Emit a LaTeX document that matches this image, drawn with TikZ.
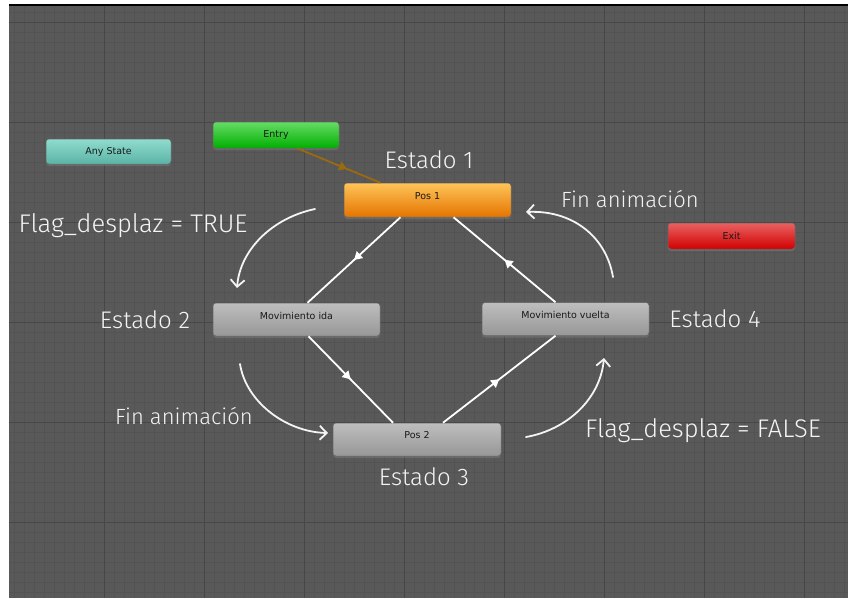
\documentclass[tikz,border=0pt]{standalone}
\usepackage{fontspec}
\newfontfamily\handfont{Fira Sans Light}
\newfontfamily\uifont{DejaVu Sans}
\usetikzlibrary{arrows.meta,decorations.markings,shadows}

\definecolor{canvas}{HTML}{595959}
\definecolor{minorgrid}{HTML}{535353}
\definecolor{majorgrid}{HTML}{474747}
\definecolor{anyTop}{HTML}{8FDCCE}
\definecolor{anyBot}{HTML}{5BB4A6}
\definecolor{entryTop}{HTML}{66DC66}
\definecolor{entryBot}{HTML}{00B000}
\definecolor{posTop}{HTML}{FFC458}
\definecolor{posBot}{HTML}{E47400}
\definecolor{greyTop}{HTML}{BEBEBE}
\definecolor{greyBot}{HTML}{979797}
\definecolor{exitTop}{HTML}{E86262}
\definecolor{exitBot}{HTML}{D20000}
\definecolor{entryLink}{HTML}{9A6A10}
\definecolor{chalk}{HTML}{F4F4F4}

\tikzset{
  minorline/.style={draw=minorgrid, line width=0.8pt},
  majorline/.style={draw=majorgrid, line width=1pt},
  statebox/.style={rounded corners=3pt, draw=black!60, line width=0.5pt,
    inner sep=0pt, text=black!90, font=\uifont\fontsize{9.5}{10}\selectfont,
    drop shadow={shadow xshift=0pt, shadow yshift=-2pt, opacity=0.45}},
  smallbox/.style={statebox, minimum width=126pt, minimum height=26pt},
  bigbox/.style={statebox, minimum width=167pt, minimum height=33pt},
  greybox/.style={bigbox, top color=greyTop, bottom color=greyBot},
  hand/.style={text=chalk, font=\handfont\fontsize{24}{24}\selectfont,
    inner sep=0pt, anchor=base},
  handwide/.style={hand, font=\handfont\fontsize{25.5}{26}\selectfont},
  handnarrow/.style={hand, font=\handfont\fontsize{22}{22}\selectfont},
  trans/.style={draw=white, line width=1.8pt, postaction={decorate},
    decoration={markings, mark=at position 0.5 with
      {\arrow{Triangle[length=8pt,width=9pt]}}}},
  entrylink/.style={draw=entryLink, line width=1.8pt, postaction={decorate},
    decoration={markings, mark=at position 0.6 with
      {\arrow{Triangle[length=8pt,width=9pt]}}}},
  note/.style={draw=chalk, line width=1.8pt, line cap=round,
    -{Straight Barb[length=7pt,width=14pt,line width=1.8pt]}}
}

\newcommand{\lifted}[1]{\raisebox{4pt}[\height][\depth]{#1}}

\begin{document}
\begin{tikzpicture}[x=1pt,y=-1pt]
  % page and editor canvas
  \useasboundingbox (0,0) rectangle (848,598);
  \fill[white] (0,0) rectangle (848,598);
  \fill[canvas] (9,5) rectangle (848,598);
  \fill[black] (9,4) rectangle (848,5.5);

  % grid
  \foreach \x in {14,24,...,844} \draw[minorline] (\x,5.5) -- (\x,598);
  \foreach \y in {12,22,...,592} \draw[minorline] (9,\y) -- (848,\y);
  \foreach \x in {104,204,...,804} \draw[majorline] (\x,5.5) -- (\x,598);
  \foreach \y in {22,122,...,522} \draw[majorline] (9,\y) -- (848,\y);

  % states
  \node[smallbox, minimum width=125pt, minimum height=25pt,
        top color=anyTop, bottom color=anyBot] (any) at (108.5,151.5) {Any State};
  \node[smallbox, top color=entryTop, bottom color=entryBot] (entry) at (276,135) {Entry};
  \node[bigbox, minimum height=34pt, top color=posTop, bottom color=posBot]
        (pos1) at (427.5,200) {\lifted{Pos 1}};
  \node[greybox] (ida) at (296.5,319.5) {\lifted{Movimiento ida}};
  \node[greybox] (vuelta) at (565.5,319) {\lifted{Movimiento vuelta}};
  \node[greybox, minimum width=168pt] (pos2) at (417,439.5) {\lifted{Pos 2}};
  \node[smallbox, minimum width=127pt, top color=exitTop, bottom color=exitBot]
        (exit) at (731.5,236) {Exit};

  % transitions
  \draw[entrylink] ([xshift=21pt]entry.south) -- ([xshift=-47pt]pos1.north);
  \draw[trans] ([xshift=-27pt]pos1.south) -- ([xshift=11pt]ida.north);
  \draw[trans] ([xshift=12pt]ida.south) -- ([xshift=-24pt]pos2.north);
  \draw[trans] ([xshift=26pt]pos2.north) -- ([xshift=-10pt]vuelta.south);
  \draw[trans] ([xshift=-10pt]vuelta.north) -- ([xshift=26pt]pos1.south);

  % handwritten notes
  \node[hand] (est1) at (429,168) {Estado 1};
  \node[hand] (est2) at (145,328) {Estado 2};
  \node[hand] (est3) at (424,485) {Estado 3};
  \node[hand] (est4) at (715,327) {Estado 4};
  \node[handwide] (flagT) at (133,232) {Flag\_desplaz = TRUE};
  \node[handnarrow] (finA) at (630,207) {Fin animación};
  \node[handnarrow] (finB) at (184,424) {Fin animación};
  \node[handwide] (flagF) at (703,437) {Flag\_desplaz = FALSE};

  % hand-drawn arrows
  \coordinate (a1s) at (315,209); \coordinate (a1e) at (237,288);
  \coordinate (a2s) at (613,277); \coordinate (a2e) at (526,212);
  \coordinate (a3s) at (240,364); \coordinate (a3e) at (328,433);
  \coordinate (a4s) at (526,437); \coordinate (a4e) at (604,358);
  \draw[note] (a1s) .. controls (272,218) and (240,250) .. (a1e);
  \draw[note] (a2s) .. controls (606,236) and (572,210) .. (a2e);
  \draw[note] (a3s) .. controls (246,402) and (286,432) .. (a3e);
  \draw[note] (a4s) .. controls (566,430) and (600,400) .. (a4e);
\end{tikzpicture}
\end{document}
